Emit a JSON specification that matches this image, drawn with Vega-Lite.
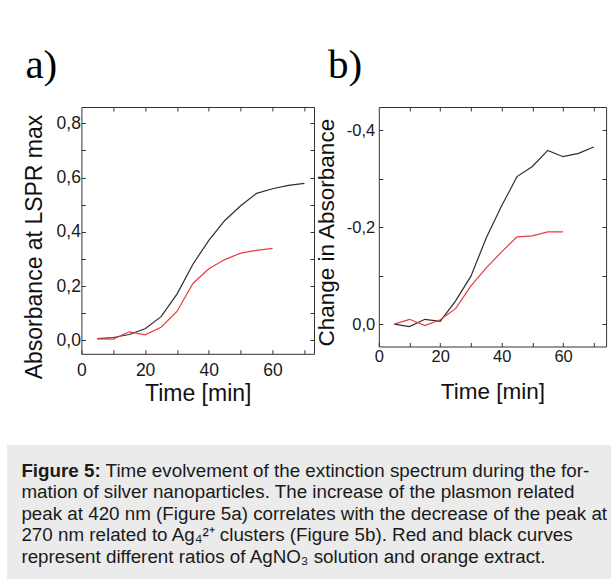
{
  "$schema": "https://vega.github.io/schema/vega-lite/v6.json",
  "padding": {"left": 7, "top": 44, "right": 0, "bottom": 0},
  "background": "white",
  "spacing": 39,
  "config": {
    "view": {"stroke": "#333333", "strokeWidth": 1},
    "font": "Liberation Sans",
    "axis": {"grid": false, "domain": false, "labelFont": "Liberation Sans", "titleFont": "Liberation Sans", "labelColor": "#1a1a1a", "titleColor": "#111111", "tickColor": "#333333", "tickWidth": 1, "labelFlush": false, "labelOverlap": false, "labelBound": false, "titleFontWeight": "normal"}
  },
  "datasets": {
    "a": [
      {"t": 5, "v": 0.007, "s": "black"}, {"t": 10, "v": 0.011, "s": "black"}, {"t": 15, "v": 0.022, "s": "black"}, {"t": 20, "v": 0.043, "s": "black"},
      {"t": 25, "v": 0.088, "s": "black"}, {"t": 30, "v": 0.171, "s": "black"}, {"t": 35, "v": 0.281, "s": "black"}, {"t": 40, "v": 0.369, "s": "black"},
      {"t": 45, "v": 0.442, "s": "black"}, {"t": 50, "v": 0.496, "s": "black"}, {"t": 55, "v": 0.542, "s": "black"}, {"t": 60, "v": 0.559, "s": "black"},
      {"t": 65, "v": 0.571, "s": "black"}, {"t": 70, "v": 0.579, "s": "black"},
      {"t": 5, "v": 0.006, "s": "red"}, {"t": 10, "v": 0.005, "s": "red"}, {"t": 15, "v": 0.032, "s": "red"}, {"t": 20, "v": 0.021, "s": "red"},
      {"t": 25, "v": 0.049, "s": "red"}, {"t": 30, "v": 0.107, "s": "red"}, {"t": 35, "v": 0.21, "s": "red"}, {"t": 40, "v": 0.264, "s": "red"},
      {"t": 45, "v": 0.298, "s": "red"}, {"t": 50, "v": 0.322, "s": "red"}, {"t": 55, "v": 0.332, "s": "red"}, {"t": 60, "v": 0.339, "s": "red"}
    ],
    "b": [
      {"t": 5, "v": 0, "s": "black"}, {"t": 10, "v": 0.005, "s": "black"}, {"t": 15, "v": -0.01, "s": "black"}, {"t": 20, "v": -0.006, "s": "black"},
      {"t": 25, "v": -0.048, "s": "black"}, {"t": 30, "v": -0.099, "s": "black"}, {"t": 35, "v": -0.178, "s": "black"}, {"t": 40, "v": -0.244, "s": "black"},
      {"t": 45, "v": -0.304, "s": "black"}, {"t": 50, "v": -0.325, "s": "black"}, {"t": 55, "v": -0.358, "s": "black"}, {"t": 60, "v": -0.345, "s": "black"},
      {"t": 65, "v": -0.352, "s": "black"}, {"t": 70, "v": -0.365, "s": "black"},
      {"t": 5, "v": 0, "s": "red"}, {"t": 10, "v": -0.01, "s": "red"}, {"t": 15, "v": 0.003, "s": "red"}, {"t": 20, "v": -0.009, "s": "red"},
      {"t": 25, "v": -0.032, "s": "red"}, {"t": 30, "v": -0.079, "s": "red"}, {"t": 35, "v": -0.116, "s": "red"}, {"t": 40, "v": -0.149, "s": "red"},
      {"t": 45, "v": -0.18, "s": "red"}, {"t": 50, "v": -0.182, "s": "red"}, {"t": 55, "v": -0.19, "s": "red"}, {"t": 60, "v": -0.19, "s": "red"}
    ],
    "caption": [
      {"line": 1, "part": "head", "text": "Figure 5:"},
      {"line": 1, "part": "first", "text": "Time evolvement of the extinction spectrum during the for-"},
      {"line": 2, "part": "body", "text": "mation of silver nanoparticles. The increase of the plasmon related"},
      {"line": 3, "part": "body", "text": "peak at 420 nm (Figure 5a) correlates with the decrease of the peak at"},
      {"line": 4, "part": "body", "text": "270 nm related to Ag₄²⁺ clusters (Figure 5b). Red and black curves"},
      {"line": 5, "part": "body", "text": "represent different ratios of AgNO₃ solution and orange extract."}
    ]
  },
  "vconcat": [
    {
      "bounds": "flush",
      "spacing": 64.4,
      "hconcat": [
        {"width": 9.3, "height": 1, "data": {"values": []}, "mark": "text", "view": {"stroke": null}},
        {
          "width": 232.6,
          "height": 246.8,
          "title": {"text": "a)", "anchor": "start", "frame": "group", "font": "Liberation Serif", "fontSize": 41, "fontWeight": "normal", "color": "#000000", "dx": -56, "offset": -12, "baseline": "alphabetic"},
          "data": {"name": "a"},
          "layer": [
            {
              "mark": {"type": "line", "strokeWidth": 1.2},
              "encoding": {
                "x": {"field": "t", "type": "quantitative", "scale": {"domain": [0, 73], "nice": false, "zero": false},
                  "axis": {"orient": "bottom", "values": [0, 10, 20, 30, 40, 50, 60, 70], "labelExpr": "datum.value % 20 == 0 ? datum.label : ''", "tickSize": -4, "labelPadding": 12, "labelFontSize": 17.5, "title": "Time [min]", "titleFontSize": 23, "titleY": 46.5, "titleBaseline": "alphabetic"}},
                "y": {"field": "v", "type": "quantitative", "scale": {"domain": [-0.049, 0.86], "nice": false, "zero": false},
                  "axis": {"orient": "left", "values": [0, 0.1, 0.2, 0.3, 0.4, 0.5, 0.6, 0.7, 0.8], "labelExpr": "round(datum.value*10) % 2 == 0 ? replace(format(datum.value, '.1f'), '.', ',') : ''", "tickSize": -4, "labelPadding": 5, "labelFontSize": 17.5, "title": "Absorbance at LSPR max", "titleFontSize": 23, "titleX": -39.8, "titleY": 139.5, "titleAngle": 270, "titleAlign": "center", "titleBaseline": "alphabetic"}},
                "color": {"field": "s", "type": "nominal", "scale": {"domain": ["black", "red"], "range": ["#2e2e2e", "#ea3b3b"]}, "legend": null}
              }
            },
            {
              "mark": {"type": "line", "opacity": 0},
              "encoding": {
                "x": {"field": "t", "type": "quantitative", "axis": {"orient": "top", "values": [10, 20, 30, 40, 50, 60, 70], "labels": false, "tickSize": -4, "title": null}},
                "y": {"field": "v", "type": "quantitative", "axis": {"orient": "right", "values": [0, 0.1, 0.2, 0.3, 0.4, 0.5, 0.6, 0.7, 0.8], "labels": false, "tickSize": -4, "title": null}},
                "detail": {"field": "s"}
              }
            }
          ],
          "resolve": {"axis": {"x": "independent", "y": "independent"}}
        },
        {
          "width": 227.3,
          "height": 239.5,
          "title": {"text": "b)", "anchor": "start", "frame": "group", "font": "Liberation Serif", "fontSize": 41, "fontWeight": "normal", "color": "#000000", "dx": -50.7, "offset": -12, "baseline": "alphabetic"},
          "data": {"name": "b"},
          "layer": [
            {
              "mark": {"type": "line", "strokeWidth": 1.2},
              "encoding": {
                "x": {"field": "t", "type": "quantitative", "scale": {"domain": [0, 74], "nice": false, "zero": false},
                  "axis": {"orient": "bottom", "values": [0, 10, 20, 30, 40, 50, 60, 70], "labelExpr": "datum.value % 20 == 0 ? datum.label : ''", "tickSize": -4, "labelPadding": 6, "labelFontSize": 16.5, "title": "Time [min]", "titleFontSize": 22.5, "titleY": 52.2, "titleBaseline": "alphabetic"}},
                "y": {"field": "v", "type": "quantitative", "scale": {"domain": [-0.4474, 0.046], "nice": false, "zero": false, "reverse": true},
                  "axis": {"orient": "left", "values": [0, -0.1, -0.2, -0.3, -0.4], "labelExpr": "round(datum.value*10) % 2 == 0 ? replace(replace(format(datum.value, '.1f'), '.', ','), '−', '-') : ''", "tickSize": -4, "labelPadding": 8, "labelFontSize": 16.5, "title": "Change in Absorbance", "titleFontSize": 22.5, "titleX": -45, "titleY": 125.2, "titleAngle": 270, "titleAlign": "center", "titleBaseline": "alphabetic"}},
                "color": {"field": "s", "type": "nominal", "scale": {"domain": ["black", "red"], "range": ["#2e2e2e", "#ea3b3b"]}, "legend": null}
              }
            },
            {
              "mark": {"type": "line", "opacity": 0},
              "encoding": {
                "x": {"field": "t", "type": "quantitative", "axis": {"orient": "top", "values": [10, 20, 30, 40, 50, 60, 70], "labels": false, "tickSize": -4, "title": null}},
                "y": {"field": "v", "type": "quantitative", "axis": {"orient": "right", "values": [0, -0.1, -0.2, -0.3, -0.4], "labels": false, "tickSize": -4, "title": null}},
                "detail": {"field": "s"}
              }
            }
          ],
          "resolve": {"axis": {"x": "independent", "y": "independent"}}
        }
      ]
    },
    {
      "width": 604,
      "height": 135.5,
      "view": {"stroke": null, "fill": "#ebebeb"},
      "data": {"name": "caption"},
      "encoding": {
        "x": {"datum": 0, "type": "quantitative", "scale": {"domain": [0, 1]}, "axis": null},
        "y": {"field": "line", "type": "quantitative", "scale": {"domain": [-0.488, 5.837], "reverse": true, "nice": false, "zero": false}, "axis": null},
        "text": {"field": "text"}
      },
      "layer": [
        {"transform": [{"filter": "datum.part == 'head'"}], "mark": {"type": "text", "align": "left", "baseline": "alphabetic", "font": "Liberation Sans", "fontSize": 18.8, "fontWeight": "bold", "color": "#1a1a1a", "dx": 14.4}},
        {"transform": [{"filter": "datum.part == 'first'"}], "mark": {"type": "text", "align": "left", "baseline": "alphabetic", "font": "Liberation Sans", "fontSize": 18.8, "color": "#1a1a1a", "dx": 98.6}},
        {"transform": [{"filter": "datum.part == 'body'"}], "mark": {"type": "text", "align": "left", "baseline": "alphabetic", "font": "Liberation Sans", "fontSize": 18.8, "color": "#1a1a1a", "dx": 14.4}}
      ]
    }
  ]
}
